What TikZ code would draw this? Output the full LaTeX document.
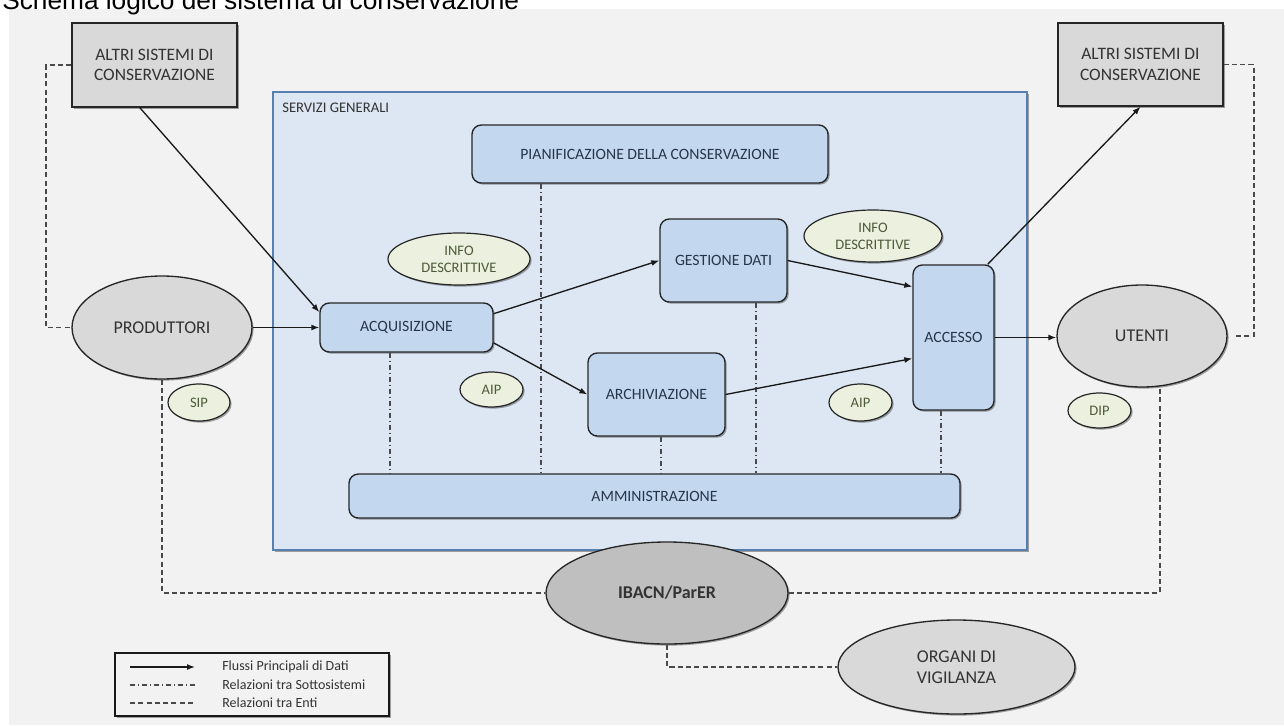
\documentclass[tikz,border=0pt]{standalone}
\usepackage{fontspec}
\setmainfont{Carlito}
\newfontfamily\titlefont{Liberation Sans}
\usetikzlibrary{shapes.geometric,arrows.meta,shadows,calc}
\definecolor{bg}{HTML}{F2F2F2}
\definecolor{grayfill}{HTML}{D9D9D9}
\definecolor{darkfill}{HTML}{BFBFBF}
\definecolor{bluefill}{HTML}{C3D8EF}
\definecolor{servfill}{HTML}{DCE7F3}
\definecolor{servline}{HTML}{5580B0}
\definecolor{greenfill}{HTML}{EBF1DE}
\definecolor{txt}{HTML}{333333}
\definecolor{bluetxt}{HTML}{26354A}
\definecolor{greentxt}{HTML}{4D5A3A}
\definecolor{dashcol}{HTML}{4A4A4A}
\begin{document}
\begin{tikzpicture}[x=0.75pt,y=-0.75pt,
  shad/.style={drop shadow={shadow xshift=1.2pt,shadow yshift=-1.2pt,opacity=0.35,fill=black}},
  graybox/.style={rectangle,draw=black!85,line width=1pt,fill=grayfill,shad,inner sep=0pt,align=center,
    font=\fontsize{13.1}{15.5}\selectfont,text=txt},
  bluebox/.style={rectangle,rounded corners=7pt,draw=black!85,line width=1pt,fill=bluefill,shad,inner sep=0pt,
    align=center,font=\fontsize{11.8}{14}\selectfont,text=bluetxt},
  grayell/.style={ellipse,draw=black!85,line width=1pt,fill=grayfill,shad,inner sep=0pt,align=center,
    font=\fontsize{13.5}{16}\selectfont,text=txt},
  greenell/.style={ellipse,draw=black!85,line width=0.9pt,fill=greenfill,shad,inner sep=0pt,align=center,
    font=\fontsize{10.9}{12.8}\selectfont,text=greentxt},
  flow/.style={line width=1pt,draw=black!90,-{Latex[length=6pt,width=4.5pt]}},
  enti/.style={line width=1.4pt,draw=dashcol,dash pattern=on 3.8pt off 2.4pt},
  sub/.style={line width=1.1pt,draw=dashcol,dash pattern=on 4pt off 2pt on 1pt off 2pt},
  legtxt/.style={anchor=west,inner sep=0pt,font=\fontsize{10.5}{12}\selectfont,text=txt}
]
\useasboundingbox (0,0) rectangle (1284,725);
\fill[white] (0,0) rectangle (1284,725);
\fill[bg] (9,9) rectangle (1284,725);
\begin{scope}
\clip (0,0) rectangle (1284,725);
\node[anchor=base west,inner sep=0pt,font=\titlefont\fontsize{19.7}{22}\selectfont] (title) at (2,9) {Schema logico del sistema di conservazione};
\end{scope}

% Servizi generali
\node[rectangle,draw=servline,line width=1.1pt,fill=servfill,shad,minimum width=565.5pt,minimum height=343.5pt,inner sep=0pt] (serv) at (650,321) {};
\node[anchor=west,inner sep=0pt,font=\fontsize{11}{13}\selectfont,text=txt] (servlab) at (282,108) {SERVIZI GENERALI};

% Gray boxes
\node[graybox,minimum width=123.75pt,minimum height=63pt] (alt1) at (154.5,65) {ALTRI SISTEMI DI\\CONSERVAZIONE};
\node[graybox,minimum width=123.75pt,minimum height=62.25pt] (alt2) at (1140.5,64.5) {ALTRI SISTEMI DI\\CONSERVAZIONE};

% Blue boxes
\node[bluebox,minimum width=267pt,minimum height=43.5pt] (pian) at (650,154) {PIANIFICAZIONE DELLA CONSERVAZIONE};
\node[bluebox,minimum width=129.75pt,minimum height=36.75pt] (acq) at (406.5,327.5) {ACQUISIZIONE};
\node[bluebox,minimum width=95.25pt,minimum height=62.25pt] (gest) at (723.5,260.5) {GESTIONE DATI};
\node[bluebox,minimum width=102.75pt,minimum height=62.25pt] (arch) at (656.5,394.5) {ARCHIVIAZIONE};
\node[bluebox,minimum width=60.75pt,minimum height=108.75pt] (acc) at (953.5,337.5) {ACCESSO};
\node[bluebox,minimum width=458.25pt,minimum height=33pt] (amm) at (654.5,496) {AMMINISTRAZIONE};

% Ellipses
\node[grayell,minimum width=135pt,minimum height=77.25pt] (prod) at (162,327.5) {PRODUTTORI};
\node[grayell,minimum width=127.5pt,minimum height=76.5pt] (ute) at (1142,336) {UTENTI};
\node[grayell,fill=darkfill,minimum width=181.5pt,minimum height=76.5pt,font=\bfseries\fontsize{13.5}{16}\selectfont] (ibacn) at (667,593) {IBACN/ParER};
\node[grayell,minimum width=177.75pt,minimum height=70.5pt,align=left] (org) at (956.5,667) {ORGANI DI\\VIGILANZA};

\node[greenell,minimum width=46.5pt,minimum height=27.75pt] (sip) at (199,402.5) {SIP};
\node[greenell,minimum width=106.5pt,minimum height=39pt] (info1) at (459,259) {INFO\\DESCRITTIVE};
\node[greenell,minimum width=47.25pt,minimum height=26.25pt] (aip1) at (491.5,389.5) {AIP};
\node[greenell,minimum width=103.5pt,minimum height=39pt] (info2) at (873,236) {INFO\\DESCRITTIVE};
\node[greenell,minimum width=47.25pt,minimum height=27.75pt] (aip2) at (860.5,402.5) {AIP};
\node[greenell,minimum width=47.25pt,minimum height=26.25pt] (dip) at (1099.5,410.5) {DIP};

% Relations between subsystems
\coordinate (s1) at ([xshift=-12.4pt]acq.south);
\coordinate (s2) at ([xshift=-81.75pt]pian.south);
\coordinate (s3) at ([xshift=3.4pt]arch.south);
\coordinate (s4) at ([xshift=24.4pt]gest.south);
\coordinate (s5) at ([xshift=-9.4pt]acc.south);
\foreach \s in {s1,s2,s3,s4,s5} \draw[sub] (\s) -- (\s |- amm.north);

% Main data flows
\draw[flow] (alt1.251) -- (acq.170);
\draw[flow] (prod.east) -- (prod.east -| acq.west);
\draw[flow] (acq.9) -- (gest.west);
\draw[flow] (acq.-10) -- (arch.west);
\draw[flow] (gest.east) -- (acc.129);
\draw[flow] (arch.east) -- (acc.207);
\draw[flow] (acc.65) -- (alt2.south);
\draw[flow] (acc.east) -- (acc.east -| ute.west);

% Relations between entities
\draw[enti] (alt1.west) -- ++(-25,0) |- (prod.west);
\draw[enti] (alt2.east) -- ++(30,0) |- ([xshift=4.5pt]ute.east);
\draw[enti] (prod.south) |- (ibacn.west);
\coordinate (u1) at ([xshift=13.5pt,yshift=-1pt]ute.south);
\draw[enti] (u1) |- (ibacn.east);
\draw[enti] (ibacn.south) |- (org.west);

% Legend
\node[rectangle,draw=black!90,line width=0.8pt,fill=bg,shad,minimum width=205.5pt,minimum height=47.25pt,inner sep=0pt] (legend) at (252,684.5) {};
\coordinate (la1) at (130,667); \coordinate (la2) at (195,667);
\coordinate (lb1) at (130,685); \coordinate (lb2) at (195,685);
\coordinate (lc1) at (130,703); \coordinate (lc2) at (195,703);
\draw[flow] (la1) -- (la2);
\draw[sub] (lb1) -- (lb2);
\draw[enti] (lc1) -- (lc2);
\node[legtxt] (l1) at (222,667) {Flussi Principali di Dati};
\node[legtxt] (l2) at (222,685) {Relazioni tra Sottosistemi};
\node[legtxt] (l3) at (222,703) {Relazioni tra Enti};
\end{tikzpicture}
\end{document}
